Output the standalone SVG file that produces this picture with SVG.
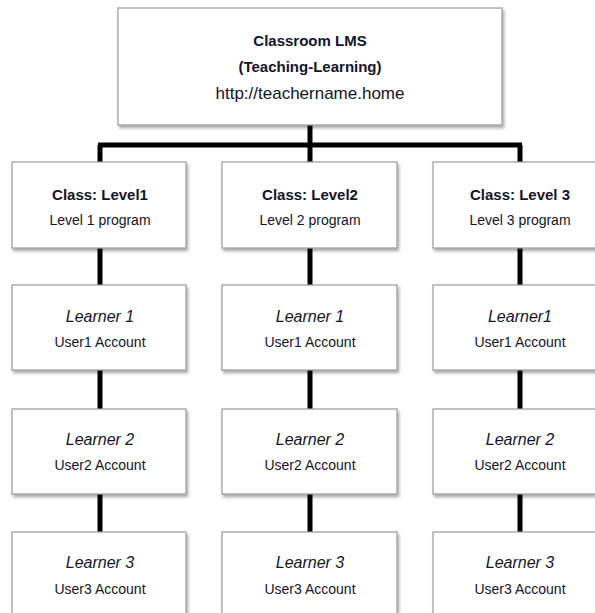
<svg xmlns="http://www.w3.org/2000/svg" width="595" height="613" viewBox="0 0 595 613">
<defs>
<filter id="sh" x="-10%" y="-10%" width="125%" height="130%">
<feDropShadow dx="1.5" dy="2.5" stdDeviation="1.5" flood-color="#000" flood-opacity="0.35"/>
</filter>
<style>
.box{fill:#fff;stroke:#9a9a9a;stroke-width:1.2;filter:url(#sh)}
.ln{stroke:#000;stroke-width:5;fill:none}
text{font-family:"Liberation Sans",Arial,sans-serif;text-anchor:middle;fill:#141428}
.b{font-weight:bold;font-size:15px}
.r{font-size:14px}
.i{font-style:italic;font-size:16px}
</style>
</defs>
<rect width="595" height="613" fill="#fff"/>
<g id="connectors">
<path class="ln" d="M310 125V145M98 145H522M100 145V162M310 145V162M520 145V162"/>
<path class="ln" d="M100 248V285M310 248V285M520 248V285"/>
<path class="ln" d="M100 370V409M310 370V409M520 370V409"/>
<path class="ln" d="M100 494V532M310 494V532M520 494V532"/>
</g>
<g id="root">
<rect class="box" x="118" y="8" width="384" height="117"/>
<text class="b" x="310" y="46">Classroom LMS</text>
<text class="b" x="310" y="72">(Teaching-Learning)</text>
<text x="310" y="99" style="font-size:17px">http://teachername.home</text>
</g>
<g id="class1">
<rect class="box" x="12" y="162" width="174" height="86"/>
<text class="b" x="100" y="200">Class: Level1</text>
<text class="r" x="100" y="225">Level 1 program</text>
</g>
<g id="class2">
<rect class="box" x="222" y="162" width="175" height="86"/>
<text class="b" x="310" y="200">Class: Level2</text>
<text class="r" x="310" y="225">Level 2 program</text>
</g>
<g id="class3">
<rect class="box" x="433" y="162" width="174" height="86"/>
<text class="b" x="520" y="200">Class: Level 3</text>
<text class="r" x="520" y="225">Level 3 program</text>
</g>
<g id="l1-1">
<rect class="box" x="12" y="285" width="174" height="85"/>
<text class="i" x="100" y="322">Learner 1</text>
<text class="r" x="100" y="347">User1 Account</text>
</g>
<g id="l2-1">
<rect class="box" x="222" y="285" width="175" height="85"/>
<text class="i" x="310" y="322">Learner 1</text>
<text class="r" x="310" y="347">User1 Account</text>
</g>
<g id="l3-1">
<rect class="box" x="433" y="285" width="174" height="85"/>
<text class="i" x="520" y="322">Learner1</text>
<text class="r" x="520" y="347">User1 Account</text>
</g>
<g id="l1-2">
<rect class="box" x="12" y="409" width="174" height="85"/>
<text class="i" x="100" y="445">Learner 2</text>
<text class="r" x="100" y="470">User2 Account</text>
</g>
<g id="l2-2">
<rect class="box" x="222" y="409" width="175" height="85"/>
<text class="i" x="310" y="445">Learner 2</text>
<text class="r" x="310" y="470">User2 Account</text>
</g>
<g id="l3-2">
<rect class="box" x="433" y="409" width="174" height="85"/>
<text class="i" x="520" y="445">Learner 2</text>
<text class="r" x="520" y="470">User2 Account</text>
</g>
<g id="l1-3">
<rect class="box" x="12" y="532" width="174" height="90"/>
<text class="i" x="100" y="568">Learner 3</text>
<text class="r" x="100" y="594">User3 Account</text>
</g>
<g id="l2-3">
<rect class="box" x="222" y="532" width="175" height="90"/>
<text class="i" x="310" y="568">Learner 3</text>
<text class="r" x="310" y="594">User3 Account</text>
</g>
<g id="l3-3">
<rect class="box" x="433" y="532" width="174" height="90"/>
<text class="i" x="520" y="568">Learner 3</text>
<text class="r" x="520" y="594">User3 Account</text>
</g>
</svg>
